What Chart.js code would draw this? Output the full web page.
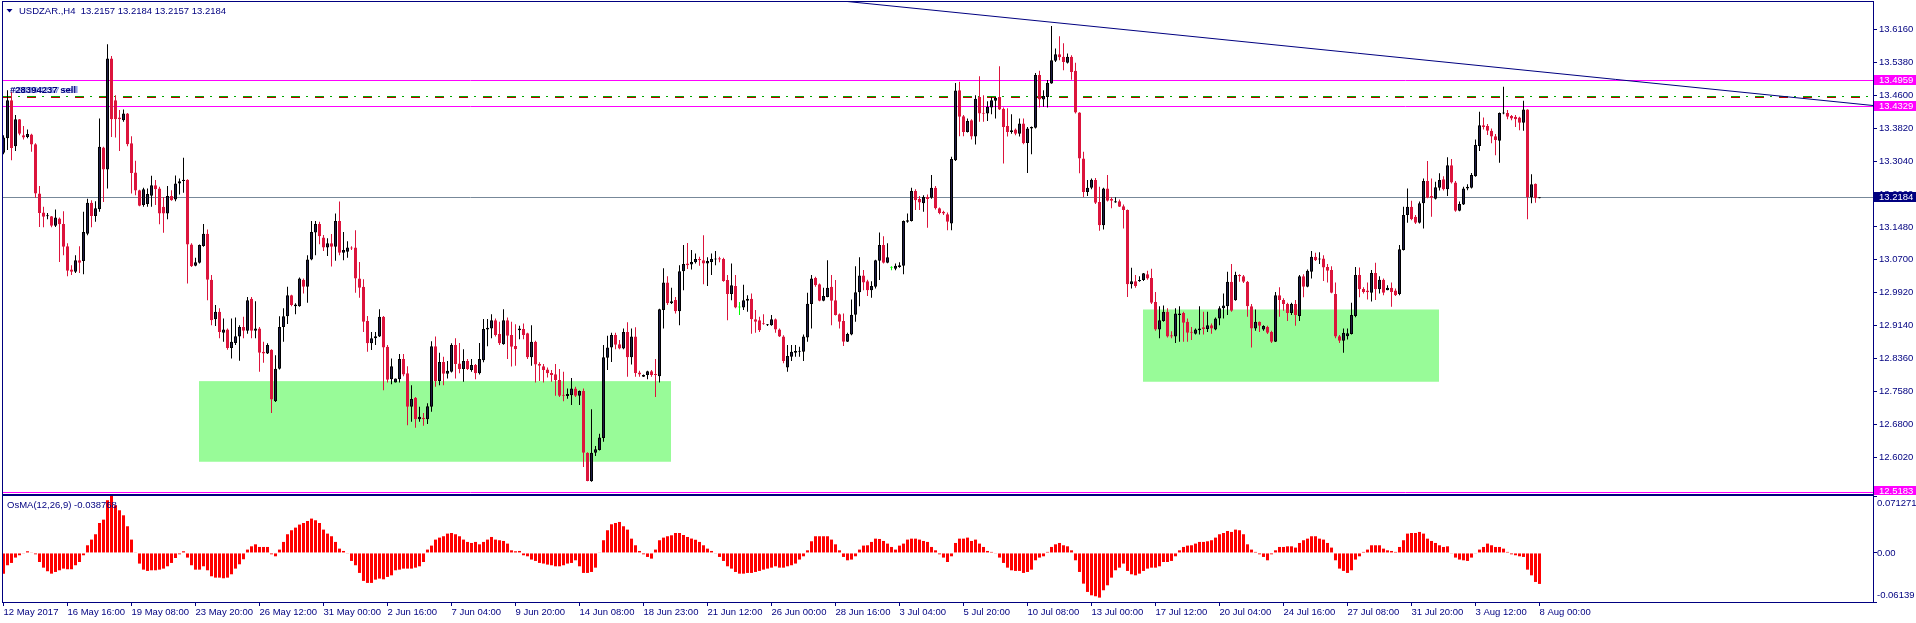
<!DOCTYPE html>
<html><head><meta charset="utf-8">
<script src="https://cdn.jsdelivr.net/npm/chart.js"></script>
<style>
html,body{margin:0;padding:0;background:#fff;overflow:hidden;width:1916px;height:623px}
canvas{position:absolute;left:0;display:block}
#main{top:0}
#osma{top:495px}
</style></head><body>
<canvas id="main" width="1916" height="495"></canvas>
<canvas id="osma" width="1916" height="128"></canvas>
<script>
// ---------------- DATA ----------------
const symbolTitle = 'USDZAR.,H4';
const lastQuote = [13.2157, 13.2184, 13.2157, 13.2184];
const orderLabel = '#28394237 sell';
const osmaTitle = 'OsMA(12,26,9)';
const osmaLast = -0.038768;

const barOpen = [
13.324,13.358,13.448,13.339,13.403,13.365,13.361,13.367,13.344,13.227,
13.182,13.173,13.173,13.151,13.168,13.155,13.102,13.047,13.042,13.069,
13.067,13.132,13.205,13.174,13.190,13.336,13.284,13.547,13.448,13.407,
13.401,13.417,13.346,13.277,13.235,13.200,13.202,13.222,13.247,13.239,
13.196,13.180,13.221,13.213,13.251,13.257,13.260,13.106,13.056,13.063,
13.103,13.132,13.023,12.929,12.947,12.897,12.905,12.861,12.873,12.888,
12.911,12.902,12.978,12.902,12.907,12.852,12.848,12.857,12.735,12.812,
12.911,12.936,12.986,12.960,12.960,13.023,13.006,13.071,13.135,13.155,
13.123,13.099,13.109,13.101,13.162,13.087,13.089,13.099,13.099,13.026,
13.006,12.925,12.872,12.884,12.888,12.935,12.864,12.787,12.779,12.787,
12.835,12.801,12.722,12.743,12.692,12.696,12.692,12.722,12.865,12.783,
12.828,12.800,12.805,12.868,12.824,12.811,12.830,12.809,12.821,12.801,
12.832,12.905,12.907,12.927,12.894,12.870,12.927,12.892,12.866,12.903,
12.906,12.896,12.839,12.876,12.823,12.818,12.810,12.802,12.799,12.785,
12.749,12.747,12.749,12.765,12.748,12.759,12.613,12.545,12.613,12.619,
12.648,12.838,12.862,12.892,12.870,12.860,12.899,12.839,12.888,12.803,
12.793,12.797,12.806,12.799,12.794,12.951,13.016,12.967,12.975,12.948,
13.043,13.061,13.059,13.064,13.072,13.069,13.061,13.065,13.071,13.074,
13.072,13.022,12.989,13.008,12.957,12.957,12.973,12.978,12.929,12.927,
12.919,12.915,12.915,12.929,12.905,12.888,12.815,12.840,12.850,12.852,
12.852,12.886,12.965,13.027,13.012,12.973,12.982,13.006,12.974,12.941,
12.925,12.876,12.893,12.940,12.993,13.033,13.019,12.998,13.006,13.068,
13.105,13.063,13.051,13.049,13.053,13.056,13.160,13.162,13.233,13.214,
13.204,13.219,13.217,13.241,13.192,13.184,13.178,13.156,13.306,13.472,
13.410,13.373,13.401,13.362,13.456,13.418,13.417,13.431,13.447,13.456,
13.428,13.387,13.373,13.379,13.369,13.393,13.347,13.381,13.383,13.508,
13.450,13.456,13.488,13.542,13.557,13.551,13.537,13.551,13.518,13.419,
13.310,13.231,13.241,13.259,13.207,13.152,13.239,13.214,13.206,13.209,
13.197,13.188,13.012,13.019,13.019,13.022,13.036,13.027,12.970,12.905,
12.925,12.947,12.891,12.888,12.939,12.944,12.923,12.899,12.895,12.903,
12.910,12.906,12.915,12.905,12.931,12.955,12.960,13.018,12.974,13.034,
13.031,13.018,12.960,12.907,12.923,12.905,12.911,12.899,12.876,12.986,
12.975,12.965,12.944,12.965,12.937,13.031,13.006,13.042,13.077,13.071,
13.073,13.053,13.046,12.989,12.889,12.878,12.889,12.894,12.937,13.034,
13.001,12.997,12.992,13.039,13.000,13.023,12.998,13.004,12.997,12.989,
13.093,13.176,13.196,13.172,13.158,13.204,13.257,13.221,13.215,13.241,
13.261,13.237,13.294,13.253,13.186,13.201,13.239,13.241,13.268,13.340,
13.389,13.387,13.376,13.363,13.352,13.417,13.418,13.411,13.409,13.407,
13.395,13.426,13.218,13.250,13.2157];

const barHigh = [
13.365,13.472,13.468,13.413,13.404,13.387,13.379,13.369,13.346,13.245,
13.196,13.181,13.174,13.189,13.170,13.185,13.109,13.057,13.081,13.102,
13.184,13.215,13.211,13.209,13.405,13.338,13.581,13.553,13.460,13.425,
13.426,13.418,13.363,13.305,13.236,13.241,13.239,13.269,13.259,13.243,
13.219,13.245,13.235,13.270,13.263,13.312,13.261,13.109,13.075,13.106,
13.155,13.142,13.034,12.963,12.955,12.931,12.907,12.931,12.933,12.915,
12.935,12.982,12.982,12.972,12.911,12.876,12.872,12.858,12.844,12.936,
12.955,13.006,12.987,12.967,13.028,13.026,13.081,13.162,13.162,13.160,
13.129,13.121,13.131,13.180,13.208,13.136,13.114,13.102,13.140,13.065,
13.024,12.937,12.899,12.899,12.953,12.937,12.868,12.836,12.789,12.847,
12.847,12.818,12.773,12.745,12.722,12.707,12.730,12.877,12.888,12.850,
12.840,12.830,12.872,12.884,12.873,12.858,12.835,12.835,12.823,12.873,
12.930,12.930,12.941,12.931,12.923,12.953,12.933,12.923,12.917,12.914,
12.919,12.897,12.915,12.878,12.827,12.823,12.815,12.809,12.823,12.811,
12.805,12.765,12.790,12.769,12.760,12.765,12.614,12.716,12.629,12.658,
12.868,12.890,12.897,12.897,12.880,12.907,12.922,12.907,12.910,12.807,
12.798,12.807,12.809,12.835,12.954,13.050,13.031,13.004,12.982,13.057,
13.105,13.110,13.093,13.085,13.077,13.128,13.076,13.085,13.091,13.077,
13.075,13.034,13.061,13.034,12.970,13.011,12.986,12.990,12.951,12.935,
12.941,12.918,12.939,12.931,12.907,12.891,12.868,12.868,12.868,12.864,
12.893,12.992,13.034,13.030,13.014,13.004,13.069,13.034,13.022,12.943,
12.943,12.897,12.976,13.055,13.076,13.046,13.023,13.019,13.070,13.135,
13.126,13.109,13.055,13.061,13.064,13.163,13.180,13.241,13.237,13.221,
13.223,13.225,13.271,13.245,13.194,13.186,13.182,13.314,13.489,13.492,
13.413,13.405,13.403,13.460,13.505,13.460,13.446,13.455,13.456,13.529,
13.431,13.429,13.415,13.381,13.405,13.405,13.385,13.386,13.513,13.518,
13.472,13.496,13.624,13.571,13.600,13.583,13.559,13.555,13.537,13.420,
13.326,13.259,13.263,13.264,13.243,13.241,13.271,13.218,13.218,13.213,
13.201,13.189,13.051,13.034,13.031,13.039,13.044,13.049,12.994,12.960,
12.962,12.955,12.901,12.955,12.960,12.947,12.931,12.911,12.907,12.960,
12.947,12.947,12.919,12.933,12.960,12.990,13.042,13.060,13.042,13.036,
13.034,13.020,12.965,12.952,12.924,12.915,12.914,12.902,12.994,13.005,
12.979,12.968,12.968,12.975,13.034,13.036,13.047,13.091,13.087,13.088,
13.081,13.060,13.055,13.016,12.892,12.907,12.907,12.968,13.053,13.052,
13.005,13.016,13.046,13.063,13.031,13.026,13.010,13.016,13.002,13.105,
13.196,13.239,13.210,13.176,13.208,13.263,13.304,13.263,13.255,13.275,
13.268,13.313,13.309,13.257,13.208,13.243,13.249,13.276,13.355,13.421,
13.407,13.392,13.381,13.368,13.419,13.480,13.425,13.413,13.413,13.409,
13.447,13.427,13.273,13.251,13.2184];

const barLow = [
13.320,13.330,13.306,13.328,13.365,13.355,13.358,13.326,13.217,13.148,
13.147,13.166,13.147,13.148,13.065,13.081,13.031,13.034,13.039,13.039,
13.036,13.128,13.147,13.160,13.184,13.207,13.239,13.361,13.360,13.328,
13.397,13.339,13.227,13.223,13.197,13.196,13.196,13.196,13.200,13.154,
13.134,13.166,13.210,13.209,13.225,13.229,13.014,13.053,13.055,13.061,
13.101,12.974,12.915,12.913,12.884,12.876,12.857,12.836,12.868,12.831,
12.884,12.895,12.884,12.884,12.805,12.826,12.847,12.707,12.733,12.810,
12.876,12.918,12.960,12.941,12.959,12.990,12.968,13.069,13.081,13.107,
13.091,13.079,13.054,13.068,13.081,13.069,13.075,13.093,12.992,12.980,
12.899,12.852,12.856,12.868,12.887,12.761,12.779,12.775,12.779,12.779,
12.794,12.678,12.686,12.672,12.686,12.677,12.681,12.710,12.769,12.773,
12.773,12.789,12.803,12.789,12.801,12.781,12.809,12.805,12.787,12.798,
12.827,12.865,12.884,12.888,12.868,12.869,12.835,12.817,12.819,12.882,
12.882,12.835,12.819,12.779,12.783,12.779,12.791,12.781,12.748,12.745,
12.735,12.741,12.726,12.745,12.726,12.579,12.545,12.544,12.605,12.618,
12.639,12.809,12.828,12.858,12.858,12.858,12.793,12.822,12.793,12.793,
12.792,12.787,12.793,12.745,12.779,12.907,12.963,12.965,12.943,12.915,
12.998,13.048,13.047,13.061,13.056,13.012,13.008,13.034,13.057,13.064,
13.018,12.927,12.974,12.955,12.939,12.951,12.947,12.895,12.897,12.899,
12.916,12.913,12.914,12.897,12.887,12.825,12.805,12.830,12.840,12.840,
12.830,12.876,12.907,13.006,12.972,12.972,12.981,12.915,12.938,12.907,
12.866,12.875,12.891,12.923,12.960,12.998,12.984,12.980,13.002,13.022,
13.061,13.062,13.045,13.045,13.051,13.036,13.158,13.161,13.188,13.188,
13.184,13.146,13.215,13.189,13.178,13.176,13.140,13.140,13.304,13.363,
13.363,13.372,13.355,13.343,13.397,13.397,13.399,13.415,13.405,13.425,
13.298,13.362,13.369,13.365,13.362,13.344,13.276,13.320,13.381,13.431,
13.433,13.431,13.487,13.539,13.543,13.519,13.535,13.497,13.417,13.275,
13.219,13.221,13.237,13.202,13.139,13.142,13.208,13.192,13.205,13.195,
13.144,12.982,13.002,13.004,13.018,13.020,13.023,12.965,12.902,12.884,
12.923,12.886,12.884,12.873,12.876,12.876,12.876,12.880,12.893,12.893,
12.893,12.899,12.895,12.903,12.915,12.931,12.939,12.947,12.973,13.018,
13.015,12.935,12.862,12.902,12.899,12.902,12.894,12.873,12.875,12.935,
12.949,12.925,12.939,12.914,12.925,12.981,13.005,13.026,13.067,13.060,
13.020,13.016,12.991,12.884,12.873,12.850,12.881,12.893,12.934,12.981,
12.990,12.976,12.971,12.975,12.990,12.986,12.998,12.959,12.984,12.986,
13.092,13.158,13.164,13.155,13.156,13.144,13.216,13.172,13.213,13.234,
13.234,13.221,13.251,13.184,13.185,13.200,13.235,13.239,13.267,13.328,
13.379,13.366,13.346,13.318,13.300,13.415,13.403,13.401,13.385,13.377,
13.376,13.166,13.204,13.205,13.2157];

const barClose = [
13.360,13.448,13.335,13.403,13.369,13.360,13.368,13.343,13.227,13.181,
13.172,13.174,13.151,13.170,13.154,13.101,13.044,13.042,13.069,13.063,
13.136,13.205,13.174,13.192,13.338,13.284,13.547,13.403,13.403,13.403,
13.417,13.344,13.276,13.234,13.198,13.237,13.226,13.247,13.237,13.180,
13.180,13.221,13.211,13.251,13.256,13.260,13.106,13.055,13.064,13.105,
13.132,13.023,12.927,12.947,12.899,12.905,12.861,12.876,12.889,12.911,
12.902,12.974,12.902,12.907,12.850,12.848,12.868,12.739,12.812,12.911,
12.936,12.986,12.963,12.964,13.026,13.006,13.071,13.136,13.155,13.126,
13.099,13.109,13.101,13.162,13.087,13.093,13.099,13.097,13.026,13.004,
12.923,12.872,12.884,12.889,12.935,12.862,12.786,12.818,12.789,12.835,
12.798,12.722,12.740,12.692,12.698,12.692,12.723,12.865,12.783,12.828,
12.800,12.807,12.868,12.823,12.811,12.830,12.811,12.821,12.801,12.835,
12.906,12.909,12.927,12.892,12.872,12.927,12.890,12.864,12.858,12.907,
12.892,12.839,12.876,12.822,12.819,12.809,12.801,12.797,12.785,12.748,
12.748,12.752,12.765,12.748,12.759,12.613,12.546,12.613,12.621,12.649,
12.839,12.862,12.892,12.869,12.860,12.899,12.839,12.888,12.802,12.798,
12.797,12.806,12.797,12.797,12.953,13.016,12.967,12.972,12.948,13.043,
13.060,13.057,13.065,13.072,13.069,13.061,13.067,13.072,13.072,13.071,
13.020,12.989,13.010,12.957,12.957,12.974,12.978,12.929,12.923,12.903,
12.917,12.917,12.929,12.905,12.888,12.830,12.842,12.852,12.854,12.854,
12.888,12.966,13.026,13.010,12.973,12.984,13.004,12.973,12.939,12.923,
12.876,12.894,12.940,12.993,13.033,13.016,12.998,13.008,13.069,13.105,
13.063,13.076,13.051,13.056,13.057,13.162,13.164,13.233,13.211,13.206,
13.219,13.214,13.241,13.192,13.181,13.180,13.160,13.309,13.471,13.409,
13.373,13.399,13.362,13.452,13.417,13.416,13.433,13.448,13.454,13.426,
13.385,13.373,13.377,13.369,13.393,13.346,13.381,13.385,13.508,13.450,
13.458,13.489,13.543,13.557,13.550,13.539,13.551,13.515,13.419,13.310,
13.231,13.241,13.260,13.205,13.152,13.239,13.210,13.210,13.209,13.196,
13.188,13.012,13.019,13.008,13.022,13.038,13.026,12.968,12.905,12.927,
12.947,12.888,12.888,12.943,12.943,12.921,12.897,12.897,12.905,12.907,
12.906,12.915,12.907,12.931,12.955,12.962,13.018,12.949,13.034,13.031,
13.018,12.960,12.907,12.923,12.914,12.913,12.897,12.876,12.986,12.975,
12.965,12.944,12.965,12.939,13.031,13.006,13.044,13.077,13.069,13.072,
13.052,13.044,12.992,12.888,12.878,12.897,12.896,12.939,13.034,13.000,
12.994,12.993,13.039,13.000,13.023,12.992,13.004,12.994,12.986,13.095,
13.176,13.196,13.166,13.158,13.204,13.257,13.217,13.217,13.242,13.259,
13.237,13.294,13.253,13.186,13.202,13.239,13.243,13.271,13.342,13.389,
13.385,13.376,13.362,13.354,13.418,13.418,13.409,13.405,13.403,13.395,
13.426,13.218,13.249,13.216,13.2184];

const osmaValues = [
-0.0259,-0.0154,-0.0125,-0.0058,-0.0029,-0.0008,0.0021,0.0008,-0.0017,-0.0113,
-0.0184,-0.0229,-0.0259,-0.0238,-0.0217,-0.0196,-0.0204,-0.0204,-0.0154,-0.0113,
-0.0029,0.0096,0.0167,0.0234,0.0375,0.0417,0.0660,0.0713,0.0597,0.0534,
0.0471,0.0334,0.0167,0.0008,-0.0133,-0.0209,-0.0225,-0.0217,-0.0217,-0.0209,
-0.0196,-0.0167,-0.0125,-0.0063,-0.0017,0.0021,-0.0058,-0.0154,-0.0209,-0.0209,
-0.0167,-0.0217,-0.0292,-0.0309,-0.0309,-0.0317,-0.0309,-0.0267,-0.0196,-0.0142,
-0.0079,0.0042,0.0083,0.0108,0.0075,0.0075,0.0075,-0.0017,-0.0042,0.0042,
0.0138,0.0234,0.0284,0.0317,0.0355,0.0375,0.0400,0.0430,0.0409,0.0375,
0.0292,0.0242,0.0209,0.0138,0.0054,0.0025,-0.0008,-0.0100,-0.0154,-0.0250,
-0.0350,-0.0375,-0.0375,-0.0334,-0.0321,-0.0330,-0.0300,-0.0280,-0.0217,-0.0209,
-0.0196,-0.0196,-0.0196,-0.0184,-0.0167,-0.0113,0.0042,0.0092,0.0167,0.0192,
0.0209,0.0242,0.0250,0.0234,0.0209,0.0167,0.0138,0.0125,0.0138,0.0108,
0.0138,0.0167,0.0200,0.0167,0.0159,0.0150,0.0117,0.0033,0.0021,0.0025,
-0.0029,-0.0042,-0.0083,-0.0100,-0.0125,-0.0133,-0.0146,-0.0154,-0.0167,-0.0167,
-0.0154,-0.0133,-0.0125,-0.0092,-0.0167,-0.0250,-0.0250,-0.0238,-0.0184,0.0008,
0.0159,0.0284,0.0359,0.0375,0.0388,0.0334,0.0292,0.0179,0.0096,0.0025,
-0.0017,-0.0050,-0.0071,0.0042,0.0159,0.0192,0.0209,0.0221,0.0250,0.0250,
0.0225,0.0200,0.0180,0.0165,0.0138,0.0096,0.0054,0.0025,-0.0008,-0.0050,
-0.0100,-0.0167,-0.0196,-0.0238,-0.0259,-0.0259,-0.0250,-0.0250,-0.0238,-0.0225,
-0.0209,-0.0196,-0.0184,-0.0167,-0.0184,-0.0184,-0.0167,-0.0154,-0.0133,-0.0083,
-0.0042,0.0033,0.0146,0.0209,0.0209,0.0209,0.0209,0.0167,0.0108,0.0033,
-0.0050,-0.0092,-0.0083,-0.0042,0.0042,0.0092,0.0096,0.0138,0.0179,0.0175,
0.0150,0.0117,0.0075,0.0042,0.0092,0.0117,0.0167,0.0179,0.0179,0.0167,
0.0150,0.0138,0.0075,0.0033,-0.0017,-0.0058,-0.0113,-0.0042,0.0125,0.0179,
0.0179,0.0192,0.0150,0.0167,0.0117,0.0075,0.0025,0.0013,-0.0008,-0.0058,
-0.0125,-0.0184,-0.0217,-0.0225,-0.0225,-0.0250,-0.0238,-0.0209,-0.0092,-0.0058,
-0.0042,0.0013,0.0075,0.0108,0.0125,0.0096,0.0083,0.0033,-0.0092,-0.0238,
-0.0384,-0.0488,-0.0530,-0.0542,-0.0559,-0.0467,-0.0405,-0.0309,-0.0217,-0.0184,
-0.0133,-0.0225,-0.0267,-0.0280,-0.0259,-0.0225,-0.0196,-0.0184,-0.0184,-0.0167,
-0.0113,-0.0113,-0.0100,-0.0042,0.0033,0.0075,0.0092,0.0096,0.0117,0.0138,
0.0138,0.0146,0.0159,0.0192,0.0234,0.0250,0.0275,0.0263,0.0292,0.0284,
0.0234,0.0108,0.0042,0.0013,-0.0017,-0.0050,-0.0092,-0.0017,0.0033,0.0075,
0.0075,0.0083,0.0083,0.0067,0.0125,0.0159,0.0179,0.0209,0.0209,0.0179,
0.0167,0.0125,0.0067,-0.0092,-0.0196,-0.0225,-0.0250,-0.0217,-0.0083,-0.0042,
0.0013,0.0042,0.0096,0.0096,0.0096,0.0054,0.0033,0.0025,0.0013,0.0075,
0.0159,0.0242,0.0250,0.0250,0.0263,0.0242,0.0179,0.0150,0.0125,0.0096,
0.0075,0.0083,-0.0008,-0.0058,-0.0083,-0.0092,-0.0100,-0.0058,-0.0008,0.0042,
0.0075,0.0117,0.0096,0.0075,0.0075,0.0054,0.0013,-0.0017,-0.0029,-0.0042,
-0.0050,-0.0209,-0.0280,-0.0363,-0.038768];

const priceTicks = [12.602,12.680,12.758,12.836,12.914,12.992,13.070,13.148,13.226,13.304,13.382,13.460,13.538,13.616];
const priceRange = [12.515, 13.681];
const osmaTicks = [-0.06139, 0, 0.071271];
const osmaTickLabels = ['-0.06139', '0.00', '0.071271'];
const timeTickIndex = [0,16,32,48,64,80,96,112,128,144,160,176,192,208,224,240,256,272,288,304,320,336,352,368,384];
const timeTickLabels = ['12 May 2017','16 May 16:00','19 May 08:00','23 May 20:00','26 May 12:00','31 May 00:00',
 '2 Jun 16:00','7 Jun 04:00','9 Jun 20:00','14 Jun 08:00','18 Jun 23:00','21 Jun 12:00','26 Jun 00:00',
 '28 Jun 16:00','3 Jul 04:00','5 Jul 20:00','10 Jul 08:00','13 Jul 00:00','17 Jul 12:00','20 Jul 04:00',
 '24 Jul 16:00','27 Jul 08:00','31 Jul 20:00','3 Aug 12:00','8 Aug 00:00'];
const timeRange = [-0.125, 467.375];

const magentaLevels = [13.4959, 13.4329, 12.5183];
const bidLevel = 13.2184;
const orderLevel = 13.4563;
const rectX1 = [48.875, 284.875];
const rectX2 = [166.875, 358.875];
const rectTop = [12.7812, 12.9511];
const rectBottom = [12.5916, 12.7812];
const trendX = [200, 467.375];
const trendY = [13.6927, 13.4357];

// ---------------- STYLE ----------------
const NAVY = '#000080';
const MAGENTA = '#ff00ff';
const FONT_FAMILY = "'Liberation Sans', Arial, sans-serif";
const FONT_SIZE = 9.5;
const fontStr = FONT_SIZE + 'px ' + FONT_FAMILY;
const ORDER_RED_SHIFT = 0.0024;
const COL = {
  up:   {fill:'#1c1c46', edge:'#000000', wick:'#000000'},
  down: {fill:'#dc143c', edge:'#dc143c', wick:'#dc143c'},
  doji: {fill:'#00ff00', edge:'#00ff00', wick:'#00ff00'}
};

// ---------------- BUILD ----------------
const N = barOpen.length;
const idx = Array.from({length: N}, (_, i) => i);
const kind = idx.map(i => barClose[i] > barOpen[i] ? 'up' : (barClose[i] < barOpen[i] ? 'down' : 'doji'));

function hline(v, color, dash, order) {
  return {type:'line', data:[{x:timeRange[0], y:v},{x:timeRange[1], y:v}], borderColor:color, borderWidth:1,
    borderDash:dash || [], pointRadius:0, pointHitRadius:0, fill:false, tension:0, order:order, snap:true};
}

const mainDatasets = [];
mainDatasets.push({type:'line', data:trendX.map((x,k)=>({x:x, y:trendY[k]})), borderColor:NAVY, borderWidth:1,
  pointRadius:0, pointHitRadius:0, fill:false, tension:0, order:1});
mainDatasets.push({type:'bar', data: idx.map(i => ({x:i, y:[barOpen[i], barClose[i]]})),
  backgroundColor: idx.map(i => COL[kind[i]].fill), borderColor: idx.map(i => COL[kind[i]].edge),
  borderWidth:1, borderSkipped:false, barThickness:3, maxBarThickness:3, grouped:false, inflateAmount:0, minBarLength:1, order:2});
mainDatasets.push({type:'bar', data: idx.map(i => ({x:i, y:[barLow[i], barHigh[i]]})),
  backgroundColor: idx.map(i => COL[kind[i]].wick), borderWidth:0, barThickness:1, maxBarThickness:1,
  grouped:false, inflateAmount:0, minBarLength:1, order:3});
magentaLevels.forEach(v => mainDatasets.push(hline(v, MAGENTA, [], 5)));
mainDatasets.push(hline(bidLevel, '#778899', [], 5));
mainDatasets.push(hline(orderLevel, '#00a800', [9,6,2,7], 4));
mainDatasets.push(hline(orderLevel - ORDER_RED_SHIFT, '#c00000', [9,15], 4));
rectX1.forEach((x1, k) => mainDatasets.push({type:'line',
  data:[{x:x1, y:rectTop[k]},{x:rectX2[k], y:rectTop[k]}], borderColor:'#98fb98', borderWidth:1,
  backgroundColor:'#98fb98', fill:{value:rectBottom[k]}, pointRadius:0, pointHitRadius:0, tension:0, order:10}));

const whiteBg = {id:'whiteBg', beforeDraw(c){const x=c.ctx; x.save(); x.fillStyle='#fff'; x.fillRect(0,0,c.width,c.height); x.restore();}};

const snapLines = {id:'snapLines', beforeDatasetsDraw(c){
  c.data.datasets.forEach((ds, k) => {
    if (!ds.snap) return;
    c.getDatasetMeta(k).data.forEach(el => { el.y = Math.floor(el.y) + 0.5; });
  });
}};

const mainDecor = {
  id:'mainDecor',
  afterDraw(c) {
    const ctx = c.ctx, a = c.chartArea, ys = c.scales.y;
    ctx.save();
    ctx.strokeStyle = NAVY; ctx.lineWidth = 1;
    ctx.strokeRect(a.left - 0.5, a.top - 0.5, a.right - a.left + 1, a.bottom - a.top + 1);
    ctx.font = fontStr; ctx.textBaseline = 'middle'; ctx.textAlign = 'left';
    const boxes = magentaLevels.map(v => [v, MAGENTA]).concat([[bidLevel, NAVY]]);
    boxes.forEach(([v, col]) => {
      const py = Math.min(Math.floor(ys.getPixelForValue(v)), Math.floor(a.bottom) - 3);
      ctx.fillStyle = col; ctx.fillRect(a.right + 1, py - 5, c.width - a.right - 1, 10);
      ctx.fillStyle = '#ffffff'; ctx.fillText(v.toFixed(4), a.right + 6, py);
    });
    ctx.fillStyle = NAVY;
    ctx.beginPath(); ctx.moveTo(6.5, 9); ctx.lineTo(12.5, 9); ctx.lineTo(9.5, 12.5); ctx.closePath(); ctx.fill();
    ctx.fillText(symbolTitle + '  ' + lastQuote.map(v => v.toFixed(4)).join(' '), 19, 11);
    const oy = Math.round(ys.getPixelForValue(orderLevel)) - 7;
    ctx.font = 'bold ' + fontStr;
    ctx.fillStyle = '#7f8fe8'; ctx.fillText(orderLabel, 12, oy);
    ctx.fillStyle = '#00007a'; ctx.fillText(orderLabel, 10, oy);
    ctx.restore();
  }
};

new Chart(document.getElementById('main'), {
  type:'bar',
  data:{datasets: mainDatasets},
  options:{
    responsive:false, animation:false, devicePixelRatio:1, events:[],
    layout:{padding:{left:3, top:2, right:0, bottom:1}},
    plugins:{legend:{display:false}, tooltip:{enabled:false}, title:{display:false}},
    scales:{
      x:{type:'linear', display:false, min:timeRange[0], max:timeRange[1], offset:false, grid:{offset:false}},
      y:{type:'linear', position:'right', min:priceRange[0], max:priceRange[1],
         afterFit(s){ s.width = 43; s.paddingTop = 0; s.paddingBottom = 0; },
         afterBuildTicks(s){ s.ticks = priceTicks.map(v => ({value:v})); },
         ticks:{callback:v => Number(v).toFixed(4), color:NAVY, font:{family:FONT_FAMILY, size:FONT_SIZE}, padding:2, autoSkip:false},
         grid:{display:true, drawOnChartArea:false, drawTicks:true, tickLength:4, color:NAVY},
         border:{display:false}}
    }
  },
  plugins:[whiteBg, snapLines, mainDecor]
});

const osmaDecor = {
  id:'osmaDecor',
  afterDraw(c) {
    const ctx = c.ctx, a = c.chartArea, ys = c.scales.y;
    ctx.save();
    ctx.strokeStyle = NAVY; ctx.lineWidth = 1;
    ctx.strokeRect(a.left - 0.5, a.top - 0.5, a.right - a.left + 1, a.bottom - a.top + 1);
    ctx.font = fontStr; ctx.textBaseline = 'middle'; ctx.textAlign = 'left'; ctx.fillStyle = NAVY;
    const shifts = [-7, 0, 7];
    osmaTicks.forEach((v, k) => ctx.fillText(osmaTickLabels[k], a.right + 4, Math.round(ys.getPixelForValue(v)) + shifts[k]));
    ctx.fillText(osmaTitle + ' ' + osmaLast.toFixed(6), 7, 10);
    ctx.restore();
  }
};

new Chart(document.getElementById('osma'), {
  type:'bar',
  data:{datasets:[{data: idx.map(i => ({x:i, y:osmaValues[i]})), backgroundColor:'#ff0000', borderWidth:0,
    barThickness:3, maxBarThickness:3, grouped:false, inflateAmount:0}]},
  options:{
    responsive:false, animation:false, devicePixelRatio:1, events:[],
    layout:{padding:{left:3, top:1, right:0, bottom:0}},
    plugins:{legend:{display:false}, tooltip:{enabled:false}},
    scales:{
      x:{type:'linear', position:'bottom', min:timeRange[0], max:timeRange[1], offset:false,
         afterFit(s){ s.height = 21; s.paddingLeft = 0; s.paddingRight = 0; },
         afterBuildTicks(s){ s.ticks = timeTickIndex.map(v => ({value:v})); },
         ticks:{callback:(v, i) => timeTickLabels[i], align:'start', maxRotation:0, minRotation:0, autoSkip:false,
                padding:1, color:NAVY, font:{family:FONT_FAMILY, size:FONT_SIZE}},
         grid:{display:true, offset:false, drawOnChartArea:false, drawTicks:true, tickLength:4, color:NAVY},
         border:{display:false}},
      y:{type:'linear', position:'right', min:osmaTicks[0], max:osmaTicks[2],
         afterFit(s){ s.width = 43; s.paddingTop = 0; s.paddingBottom = 0; },
         afterBuildTicks(s){ s.ticks = osmaTicks.map(v => ({value:v})); },
         ticks:{display:false},
         grid:{display:true, drawOnChartArea:false, drawTicks:true, tickLength:4, color:NAVY},
         border:{display:false}}
    }
  },
  plugins:[whiteBg, osmaDecor]
});
</script>
</body></html>
